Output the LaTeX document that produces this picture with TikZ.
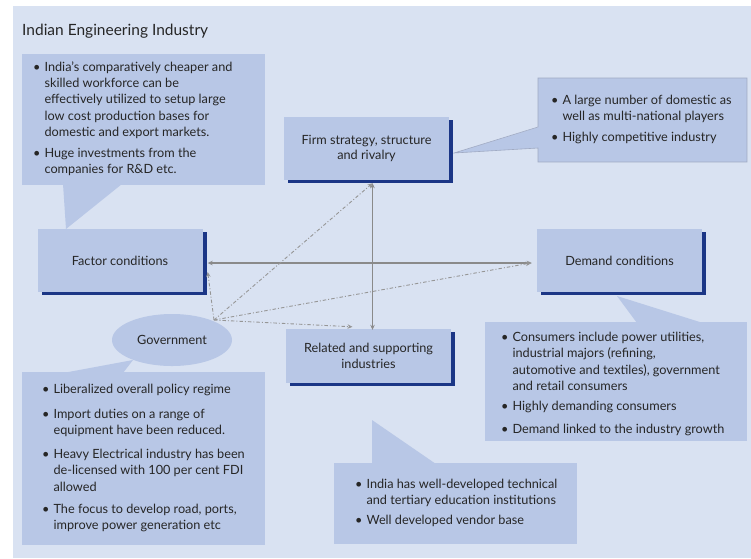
\documentclass[tikz,border=0pt]{standalone}
\usepackage{fontspec}
\setmainfont{Lato}
\usetikzlibrary{arrows.meta,shadows,shapes.geometric}
\definecolor{bgc}{RGB}{217,226,242}
\definecolor{boxc}{RGB}{184,199,230}
\definecolor{navyc}{RGB}{27,54,134}
\definecolor{arrc}{RGB}{138,138,138}
\definecolor{dashc}{RGB}{150,150,150}
\definecolor{txtc}{RGB}{38,38,38}
\definecolor{edgec}{RGB}{160,170,195}
\newcommand{\bfnt}{\fontsize{12.7}{16.3}\selectfont}
\begin{document}
\begin{tikzpicture}[x=1pt,y=-1pt,
  every node/.style={text=txtc},
  mainbox/.style={rectangle,fill=boxc,inner sep=0pt,minimum width=165pt,
    align=center,font=\fontsize{12.7}{15.5}\selectfont,
    drop shadow={shadow xshift=4pt,shadow yshift=-3pt,fill=navyc,opacity=1}},
  callout/.style={fill=boxc},
  txtblk/.style={anchor=north west,inner sep=0pt,font=\bfnt,align=left},
  sol/.style={draw=arrc,line width=1.1pt,{Stealth[length=5pt,width=4.5pt]}-{Stealth[length=5pt,width=4.5pt]}},
  dd/.style={draw=dashc,line width=0.9pt,dash pattern=on 3.5pt off 2pt on 1pt off 2pt,-{Stealth[length=5pt,width=4.5pt]}}
]
\useasboundingbox (0,0) rectangle (751,558);
\fill[white] (0,0) rectangle (751,558);
\fill[bgc] (13,6) rectangle (751,558);

\node[anchor=base west,inner sep=0pt,font=\fontsize{15.5}{18}\selectfont] (title) at (22,35) {Indian Engineering Industry};

% callout shapes
\fill[callout] (22,54) rectangle (265,185);
\fill[callout] (63,184) -- (66,229) -- (122,184) -- cycle;
\fill[callout] (538,78) rectangle (747,162);
\fill[callout] (539,127) -- (454,153) -- (539,148) -- cycle;
\draw[edgec,line width=0.6pt] (538,127) -- (538,78) -- (747,78) -- (747,162) -- (538,162) -- (538,148) -- (454,153) -- cycle;
\fill[callout] (485,322) rectangle (747,441);
\fill[callout] (637,323) -- (617,296) -- (703,323) -- cycle;
\fill[callout] (334,463) rectangle (577,544);
\fill[callout] (372,464) -- (372,420) -- (436,464) -- cycle;
\fill[callout] (22,372) rectangle (265,545);
\fill[callout] (63,373) -- (133,360) -- (123,373) -- cycle;

% main nodes
\node[mainbox,minimum height=63pt] (factor) at (120,260.5) {Factor conditions};
\node[mainbox,minimum height=63pt] (firm) at (366.5,148.5) {Firm strategy, structure\\and rivalry};
\node[mainbox,minimum height=63pt] (demand) at (619.5,260.5) {Demand conditions};
\node[mainbox,minimum height=54pt] (related) at (368.5,356) {Related and supporting\\industries};
\node[ellipse,fill=boxc,minimum width=120pt,minimum height=52pt,inner sep=0pt,font=\fontsize{12.7}{15.5}\selectfont] (gov) at (172,340) {Government};

% texts
\node[txtblk] (t1) at (33,59.6) {\begin{tabular}{@{}l@{\hspace{4pt}}l@{}}
\textbullet & India's comparatively cheaper and\\
 & skilled workforce can be\\
 & effectively utilized to setup large\\
 & low cost production bases for\\
 & domestic and export markets.\\[4.5pt]
\textbullet & Huge investments from the\\
 & companies for R\&D etc.
\end{tabular}};
\node[txtblk] (t2) at (551,92.6) {\begin{tabular}{@{}l@{\hspace{4pt}}l@{}}
\textbullet & A large number of domestic as\\
 & well as multi-national players\\[4.5pt]
\textbullet & Highly competitive industry
\end{tabular}};
\node[txtblk] (t3) at (501,330) {\begin{tabular}{@{}l@{\hspace{4pt}}l@{}}
\textbullet & Consumers include power utilities,\\
 & industrial majors (refining,\\
 & automotive and textiles), government\\
 & and retail consumers\\[4pt]
\textbullet & Highly demanding consumers\\[6pt]
\textbullet & Demand linked to the industry growth
\end{tabular}};
\node[txtblk] (t4) at (355,476.6) {\begin{tabular}{@{}l@{\hspace{4pt}}l@{}}
\textbullet & India has well-developed technical\\
 & and tertiary education institutions\\[4pt]
\textbullet & Well developed vendor base
\end{tabular}};
\node[txtblk] (t5) at (42,381.6) {\begin{tabular}{@{}l@{\hspace{4pt}}l@{}}
\textbullet & Liberalized overall policy regime\\[8.5pt]
\textbullet & Import duties on a range of\\
 & equipment have been reduced.\\[8pt]
\textbullet & Heavy Electrical industry has been\\
 & de-licensed with 100 per cent FDI\\
 & allowed\\[6pt]
\textbullet & The focus to develop road, ports,\\
 & improve power generation etc
\end{tabular}};

% connectors
\coordinate (gp) at (214,320);
\draw[sol] ([xshift=5pt,yshift=-2.5pt]factor.east) -- ([xshift=-5pt,yshift=-2.5pt]demand.west);
\draw[sol] ([xshift=6pt,yshift=-3pt]firm.south) -- ([xshift=4pt,yshift=-1pt]related.north);
\draw[dd] (gp) -- ([xshift=5pt,yshift=-11.5pt]factor.east);
\draw[dd] (gp) -- ([xshift=6pt,yshift=-3pt]firm.south);
\draw[dd] (gp) -- ([xshift=-6pt,yshift=-2.5pt]demand.west);
\draw[dd] (gp) -- ([xshift=-16pt,yshift=2pt]related.north);
\end{tikzpicture}
\end{document}
